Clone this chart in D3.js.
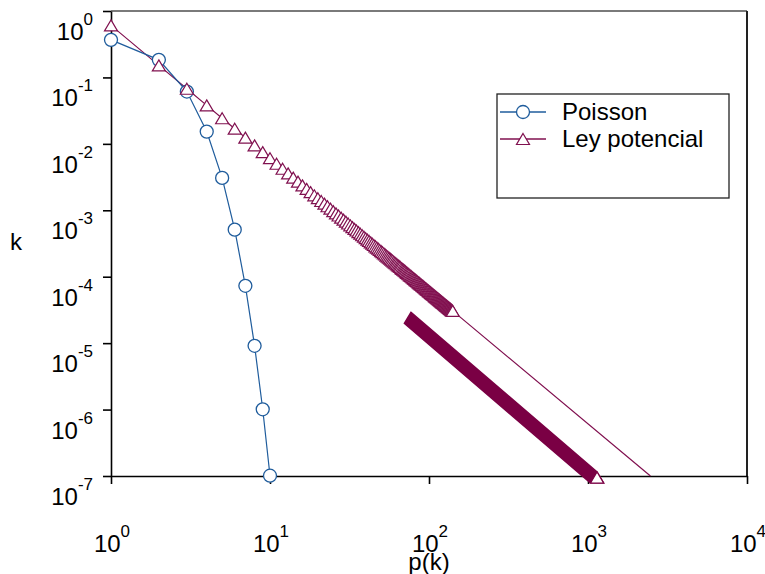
<!DOCTYPE html>
<html>
<head>
<meta charset="utf-8">
<script src="https://cdn.jsdelivr.net/npm/d3@7"></script>
<style>
  body { margin: 0; background: #fff; }
  text { font-family: Arial, "Liberation Sans", sans-serif; fill: #000; }
</style>
</head>
<body>
<div id="containerDiv"></div>
<script>
// poisson distribution points (k, p(k))
const poissonK = [1, 2, 3, 4, 5, 6, 7, 8, 9, 10];
const poissonP = [0.368, 0.184, 0.0613, 0.0153, 0.00307, 5.11e-4, 7.3e-5, 9.12e-6, 1.01e-6, 1.01e-7];

// power law points with markers
const powerK = [
  1, 2, 3, 4, 5, 6, 7, 8, 9, 10, 11, 12, 13, 14, 15, 16, 17, 18, 19, 20,
  21, 22, 23, 24, 25, 26, 27, 28, 29, 30, 31, 32, 33, 34, 35, 36, 37, 38, 39, 40,
  41, 42, 43, 44, 45, 46, 47, 48, 49, 50, 51, 52, 53, 54, 55, 56, 57, 58, 59, 60,
  61, 62, 63, 64, 65, 66, 67, 68, 69, 70, 71, 72, 73, 74, 75, 76, 77, 78, 79, 80,
  81, 82, 83, 84, 85, 86, 87, 88, 89, 90, 91, 92, 93, 94, 95, 96, 97, 98, 99, 100,
  101, 102, 103, 104, 105, 106, 107, 108, 109, 110, 111, 112, 113, 114, 115, 116, 117, 118, 119, 120,
  121, 122, 123, 124, 125, 126, 127, 128, 129, 130, 131, 132, 133, 134, 135, 136, 137, 138, 139, 140,
  141
];
const powerP = [
  0.608, 0.152, 0.0675, 0.038, 0.0243, 0.0169, 0.0124, 0.0095, 0.0075, 0.00608,
  0.00502, 0.00422, 0.0036, 0.0031, 0.0027, 0.00237, 0.0021, 0.00188, 0.00168, 0.00152,
  0.00138, 0.00126, 0.00115, 0.00106, 9.73e-4, 8.99e-4, 8.34e-4, 7.75e-4, 7.23e-4, 6.75e-4,
  6.33e-4, 5.94e-4, 5.58e-4, 5.26e-4, 4.96e-4, 4.69e-4, 4.44e-4, 4.21e-4, 4.0e-4, 3.8e-4,
  3.62e-4, 3.45e-4, 3.29e-4, 3.14e-4, 3.0e-4, 2.87e-4, 2.75e-4, 2.64e-4, 2.53e-4, 2.43e-4,
  2.34e-4, 2.25e-4, 2.16e-4, 2.08e-4, 2.01e-4, 1.94e-4, 1.87e-4, 1.81e-4, 1.75e-4, 1.69e-4,
  1.63e-4, 1.58e-4, 1.53e-4, 1.48e-4, 1.44e-4, 1.4e-4, 1.35e-4, 1.31e-4, 1.28e-4, 1.24e-4,
  1.21e-4, 1.17e-4, 1.14e-4, 1.11e-4, 1.08e-4, 1.05e-4, 1.03e-4, 9.99e-5, 9.74e-5, 9.5e-5,
  9.27e-5, 9.04e-5, 8.82e-5, 8.62e-5, 8.41e-5, 8.22e-5, 8.03e-5, 7.85e-5, 7.67e-5, 7.5e-5,
  7.34e-5, 7.18e-5, 7.03e-5, 6.88e-5, 6.74e-5, 6.6e-5, 6.46e-5, 6.33e-5, 6.2e-5, 6.08e-5,
  5.96e-5, 5.84e-5, 5.73e-5, 5.62e-5, 5.51e-5, 5.41e-5, 5.31e-5, 5.21e-5, 5.12e-5, 5.02e-5,
  4.93e-5, 4.85e-5, 4.76e-5, 4.68e-5, 4.6e-5, 4.52e-5, 4.44e-5, 4.37e-5, 4.29e-5, 4.22e-5,
  4.15e-5, 4.08e-5, 4.02e-5, 3.95e-5, 3.89e-5, 3.83e-5, 3.77e-5, 3.71e-5, 3.65e-5, 3.6e-5,
  3.54e-5, 3.49e-5, 3.44e-5, 3.39e-5, 3.34e-5, 3.29e-5, 3.24e-5, 3.19e-5, 3.15e-5, 3.1e-5,
  3.06e-5
];
// power law line continues without markers to the bottom of the plot
const powerTailK = [2470];
const powerTailP = [1.0e-7];

// second power law run: markers so dense that they form a solid band
const bandK = [77, 1140];
const bandP = [2.4e-5, 9.5e-8];

// tick values (exponents)
const xTicks = [0, 1, 2, 3, 4];
const yTicks = [0, -1, -2, -3, -4, -5, -6, -7];

const seriesNames = ["Poisson", "Ley potencial"];
const blue = "#1f5c9c";
const maroon = "#80104f";
const bandColor = "#7a0044";

const W = 765, H = 574;
const plotLeft = 111, plotRight = 747, plotTop = 11, plotBottom = 476;

let svg = d3
  .select("#containerDiv")
  .append("svg")
  .attr("width", W)
  .attr("height", H);

let xScale = d3.scaleLog().domain([1, 1e4]).range([plotLeft, plotRight]);
let yScale = d3.scaleLog().domain([1e-7, 1]).range([plotBottom, plotTop]);

// frame: top and right lines
svg.append("line")
  .attr("x1", plotLeft).attr("x2", plotRight).attr("y1", plotTop).attr("y2", plotTop)
  .attr("stroke", "#7a7a7a").attr("stroke-width", 2);
svg.append("line")
  .attr("x1", plotRight).attr("x2", plotRight).attr("y1", plotTop).attr("y2", plotBottom)
  .attr("stroke", "#222").attr("stroke-width", 2);

// y axis
let yAxis = d3.axisLeft(yScale)
  .tickValues(yTicks.map((e) => Math.pow(10, e)))
  .tickSize(8)
  .tickSizeOuter(0)
  .tickFormat("");
let gY = svg.append("g")
  .attr("transform", "translate(" + plotLeft + ",0)")
  .call(yAxis);
gY.selectAll("line,path").attr("stroke", "#000").attr("stroke-width", 1.6);

// x axis
let xAxis = d3.axisBottom(xScale)
  .tickValues(xTicks.map((e) => Math.pow(10, e)))
  .tickSize(8)
  .tickSizeOuter(0)
  .tickFormat("");
let gX = svg.append("g")
  .attr("transform", "translate(0," + plotBottom + ")")
  .call(xAxis);
gX.selectAll("line,path").attr("stroke", "#000").attr("stroke-width", 1.6);

// y tick labels, 10 with superscript, sitting below each tick
yTicks.forEach((e) => {
  let t = svg.append("text")
    .attr("x", 93)
    .attr("y", yScale(Math.pow(10, e)) + 29)
    .attr("text-anchor", "end")
    .style("font-size", "24px");
  t.append("tspan").text("10");
  t.append("tspan").attr("dy", -15).style("font-size", "17px").text(e);
});

// x tick labels
xTicks.forEach((e) => {
  let t = svg.append("text")
    .attr("x", xScale(Math.pow(10, e)) + 1)
    .attr("y", 552)
    .attr("text-anchor", "middle")
    .style("font-size", "24px");
  t.append("tspan").text("10");
  t.append("tspan").attr("dy", -15).style("font-size", "17px").text(e);
});

// axis titles
svg.append("text")
  .attr("x", 16).attr("y", 250)
  .attr("text-anchor", "middle")
  .style("font-size", "24px")
  .text("k");
svg.append("text")
  .attr("x", 429).attr("y", 570)
  .attr("text-anchor", "middle")
  .style("font-size", "24px")
  .text("p(k)");

// marker shapes
const triW = 6.5, triH = 5.5;
function triPath(cx, cy) {
  return "M" + cx + "," + (cy - triH) + "L" + (cx + triW) + "," + (cy + triH) +
    "L" + (cx - triW) + "," + (cy + triH) + "Z";
}

let line = d3.line().x((d) => xScale(d[0])).y((d) => yScale(d[1]));

let poissonData = poissonK.map((k, i) => [k, poissonP[i]]);
let powerData = powerK.map((k, i) => [k, powerP[i]]);
let powerLine = powerData.concat(powerTailK.map((k, i) => [k, powerTailP[i]]));

// power law line
svg.append("path")
  .attr("d", line(powerLine))
  .attr("fill", "none")
  .attr("stroke", maroon)
  .attr("stroke-width", 1.2);

// dense band: hull of first and last triangle
let bx0 = xScale(bandK[0]), by0 = yScale(bandP[0]);
let bx1 = xScale(bandK[1]), by1 = yScale(bandP[1]);
svg.append("path")
  .attr("d",
    "M" + bx0 + "," + (by0 - triH) +
    "L" + bx1 + "," + (by1 - triH) +
    "L" + (bx1 + triW) + "," + (by1 + triH) +
    "L" + (bx1 - triW) + "," + (by1 + triH) +
    "L" + (bx0 - triW) + "," + (by0 + triH) + "Z")
  .attr("fill", bandColor)
  .attr("stroke", bandColor)
  .attr("stroke-width", 1.6);
svg.append("path")
  .attr("d", triPath(bx1, by1))
  .attr("fill", "#fff")
  .attr("stroke", bandColor)
  .attr("stroke-width", 1.2);

// poisson line and markers
svg.append("path")
  .attr("d", line(poissonData))
  .attr("fill", "none")
  .attr("stroke", blue)
  .attr("stroke-width", 1.2);
svg.selectAll(".circ")
  .data(poissonData)
  .enter()
  .append("circle")
  .attr("class", "circ")
  .attr("cx", (d) => xScale(d[0]))
  .attr("cy", (d) => yScale(d[1]))
  .attr("r", 6.5)
  .attr("fill", "#fff")
  .attr("stroke", blue)
  .attr("stroke-width", 1.3);

// power law markers
svg.selectAll(".tri")
  .data(powerData)
  .enter()
  .append("path")
  .attr("class", "tri")
  .attr("d", (d) => triPath(xScale(d[0]), yScale(d[1])))
  .attr("fill", "#fff")
  .attr("stroke", maroon)
  .attr("stroke-width", 1.2);

// legend
let legend = svg.append("g");
legend.append("rect")
  .attr("x", 497).attr("y", 94)
  .attr("width", 232).attr("height", 104)
  .attr("fill", "#fff")
  .attr("stroke", "#222")
  .attr("stroke-width", 1.3);
[blue, maroon].forEach((c, i) => {
  let ly = 112 + i * 27;
  legend.append("line")
    .attr("x1", 500).attr("x2", 546).attr("y1", ly).attr("y2", ly)
    .attr("stroke", c).attr("stroke-width", 1.3);
  if (i === 0) {
    legend.append("circle")
      .attr("cx", 523).attr("cy", ly).attr("r", 6.5)
      .attr("fill", "#fff").attr("stroke", c).attr("stroke-width", 1.3);
  } else {
    legend.append("path")
      .attr("d", triPath(523, ly))
      .attr("fill", "#fff").attr("stroke", c).attr("stroke-width", 1.2);
  }
  legend.append("text")
    .attr("x", 562).attr("y", ly + 8)
    .style("font-size", "24px")
    .text(seriesNames[i]);
});
</script>
</body>
</html>
